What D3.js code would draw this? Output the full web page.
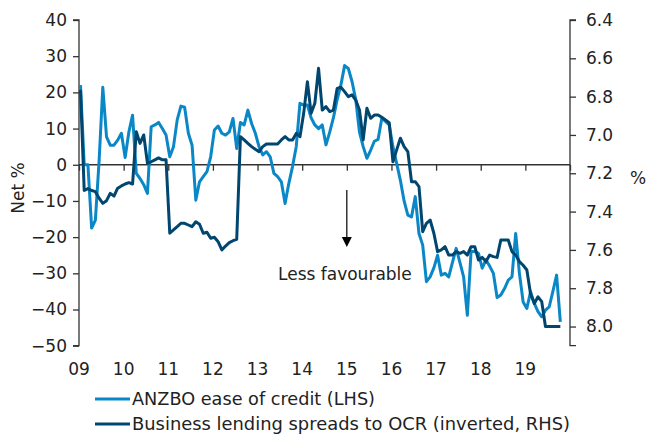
<!DOCTYPE html>
<html>
<head>
<meta charset="utf-8">
<script src="https://cdn.jsdelivr.net/npm/d3@7"></script>
<style>
  html, body { margin: 0; padding: 0; background: #fff; }
  svg { display: block; font-family: "DejaVu Sans", Verdana, sans-serif; }
</style>
</head>
<body>
<svg id="chart" width="648" height="434"></svg>
<script>
// ---- Data (monthly, starting Jan 2009) ----
const startYear = 2009;
const yearLabels = ["09","10","11","12","13","14","15","16","17","18","19"];
const leftTicks = [40, 30, 20, 10, 0, -10, -20, -30, -40, -50];
const rightTicks = [6.4, 6.6, 6.8, 7.0, 7.2, 7.4, 7.6, 7.8, 8.0];

// ANZBO ease of credit (LHS, net %)
const anzboEaseOfCredit = [
  22, 0, 0, -17.5, -15.3, 1, 21.4, 7.7, 5.4, 5.4, 6.8, 8.7,
  2, 9, 13.7, -2.4, -3.8, -5.5, -7.9, 10.5, 11, 11.7, 10, 8.2,
  2.2, 5, 12.4, 16.2, 15.9, 8.7, 5.4, -9.8, -4.7, -3.3, -1.9, 2.2,
  9.6, 10.7, 8.7, 8.2, 9.1, 12.8, 4.5, 11.7, 11, 15.1, 11.4, 8.7,
  5, 2.7, 3.6, 2.2, -2.4, -3.3, -4.7, -10.7, -5.2, -0.5, 5, 17,
  16.5, 16.5, 13, 11, 10, 11, 5.5, 9, 13, 18, 22, 27.4,
  26.6, 23, 18, 9, 5, 1.8, 4, 6.5, 7, 12.8, 12, 11,
  5, 0.4, -4.3, -10, -13.9, -14.4, -8.8, -19, -22.2, -32.3, -31, -28.5,
  -25, -30.5, -30, -31, -27, -23.1, -27, -31, -41.6, -24, -24, -24.5,
  -28.6, -26.3, -28, -30, -36.7, -36, -34.2, -31.9, -31, -19, -30, -37.9,
  -39.7, -35.1, -38.3, -40.6, -42, -40.2, -39.3, -35, -30.5, -43.4
];

// Business lending spreads to OCR (inverted, RHS, %)
const businessLendingSpreads = [
  6.765, 7.29, 7.28, 7.29, 7.296, 7.33, 7.357, 7.343, 7.305, 7.319, 7.278, 7.266,
  7.256, 7.249, 7.256, 6.983, 7.044, 7.0, 7.148, 7.14, 7.13, 7.12, 7.13, 7.13,
  7.513, 7.496, 7.479, 7.461, 7.461, 7.47, 7.479, 7.453, 7.466, 7.513, 7.508, 7.539,
  7.534, 7.557, 7.6, 7.58, 7.562, 7.552, 7.545, 7.009, 7.026, 7.044, 7.061, 7.075,
  7.087, 7.061, 7.047, 7.047, 7.047, 7.047, 7.026, 7.009, 7.026, 7.026, 6.992, 7.009,
  6.887, 6.722, 6.887, 6.835, 6.652, 6.87, 6.852, 6.878, 6.87, 6.757, 6.751, 6.774,
  6.8, 6.791, 6.818, 6.87, 7.026, 6.861, 6.913, 6.896, 6.896, 6.908, 6.922, 6.936,
  7.14, 7.078, 7.017, 7.061, 7.087, 7.244, 7.244, 7.27, 7.505, 7.461, 7.444, 7.513,
  7.609, 7.6, 7.583, 7.627, 7.627, 7.609, 7.618, 7.609, 7.627, 7.583, 7.583, 7.653,
  7.639, 7.661, 7.627, 7.635, 7.639, 7.548, 7.548, 7.548, 7.609, 7.627, 7.661, 7.68,
  7.705, 7.83, 7.88, 7.845, 7.87, 8.0, 8.0, 8.0, 8.0, 8.0
];

const seriesNames = ["ANZBO ease of credit (LHS)", "Business lending spreads to OCR (inverted, RHS)"];
const colors = ["#0a87c6", "#00466e"];

// ---- Layout ----
const svg = d3.select("#chart");
const plotLeft = 79, plotRight = 570, plotTop = 20, plotBottom = 345.7;
const fontSize = 17;
const axisColor = "#333";

const x = d3.scaleLinear().domain([startYear, startYear + 11]).range([plotLeft, plotRight]);
const yL = d3.scaleLinear().domain([-50, 40]).range([plotBottom, plotTop]);
const yR = d3.scaleLinear().domain([8.1, 6.4]).range([plotBottom, plotTop]);

const dateOf = i => startYear + (i + 0.4) / 12;

// Lines
const lineL = d3.line().x((d, i) => x(dateOf(i))).y(d => yL(d));
const lineR = d3.line().x((d, i) => x(dateOf(i))).y(d => yR(d));

// Left axis
const gL = svg.append("g").attr("transform", `translate(${plotLeft},0)`)
  .call(d3.axisLeft(yL).tickValues(leftTicks).tickSize(6).tickPadding(6).tickFormat(d3.format("d")));
// Right axis
const gR = svg.append("g").attr("transform", `translate(${plotRight},0)`)
  .call(d3.axisRight(yR).tickValues(rightTicks).tickSize(6).tickPadding(10).tickFormat(d3.format(".1f")));
// X axis at zero
const yearTicks = d3.range(startYear, startYear + 12);
const gX = svg.append("g").attr("transform", `translate(0,${yL(0)})`)
  .call(d3.axisBottom(x).tickValues(yearTicks).tickSize(6).tickFormat(""));

[gL, gR, gX].forEach(g => {
  g.select(".domain").attr("stroke", axisColor).attr("stroke-width", 1.3);
  g.selectAll(".tick line").attr("stroke", axisColor).attr("stroke-width", 1.3);
  g.selectAll("text").attr("font-size", fontSize).attr("fill", "#222")
    .attr("font-family", "DejaVu Sans, Verdana, sans-serif");
});
gL.select(".domain").attr("d", `M-6,${plotTop}H0V${plotBottom}H-6`);
gR.select(".domain").attr("d", `M6,${plotTop}H0V${plotBottom}H6`);
gX.select(".domain").attr("d", `M${plotLeft},0H${plotRight}`);

svg.append("path").datum(anzboEaseOfCredit)
  .attr("d", lineL).attr("fill", "none")
  .attr("stroke", colors[0]).attr("stroke-width", 3).attr("stroke-linejoin", "round");

svg.append("path").datum(businessLendingSpreads)
  .attr("d", lineR).attr("fill", "none")
  .attr("stroke", colors[1]).attr("stroke-width", 3).attr("stroke-linejoin", "round");

// Year labels at bottom
svg.append("g").selectAll("text").data(yearLabels).join("text")
  .attr("x", (d, i) => x(startYear + i))
  .attr("y", 375)
  .attr("text-anchor", "middle")
  .attr("font-size", fontSize).attr("fill", "#222")
  .text(d => d);

// Axis titles
svg.append("text")
  .attr("transform", `translate(24,188) rotate(-90)`)
  .attr("text-anchor", "middle")
  .attr("font-size", fontSize).attr("fill", "#222")
  .text("Net %");
svg.append("text")
  .attr("x", 630).attr("y", 184)
  .attr("font-size", fontSize).attr("fill", "#222")
  .text("%");

// Annotation arrow
const arrowX = x(2015);
svg.append("line")
  .attr("x1", arrowX).attr("x2", arrowX)
  .attr("y1", 190).attr("y2", 240)
  .attr("stroke", "#000").attr("stroke-width", 1.2);
svg.append("path")
  .attr("d", `M${arrowX - 5},237L${arrowX + 5},237L${arrowX},247Z`)
  .attr("fill", "#000");
svg.append("text")
  .attr("x", 278).attr("y", 280)
  .attr("font-size", fontSize).attr("fill", "#222")
  .text("Less favourable");

// Legend
const legendWidths = [243, 438];
const legend = svg.append("g");
seriesNames.forEach((name, i) => {
  const yy = 399 + i * 25;
  legend.append("line")
    .attr("x1", 95).attr("x2", 130).attr("y1", yy).attr("y2", yy)
    .attr("stroke", colors[i]).attr("stroke-width", 3);
  legend.append("text")
    .attr("x", 132).attr("y", yy + 6)
    .attr("font-size", 17).attr("fill", "#222")
    .attr("textLength", legendWidths[i]).attr("lengthAdjust", "spacingAndGlyphs")
    .text(name);
});
</script>
</body>
</html>
